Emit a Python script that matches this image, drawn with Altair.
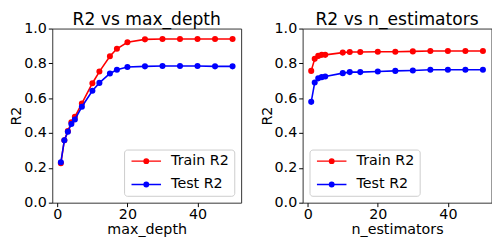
import altair as alt
import pandas as pd

max_depth = [1, 2, 3, 4, 5, 7, 10, 12, 15, 17, 20, 25, 30, 35, 40, 45, 50]
train_md = [0.226, 0.359, 0.411, 0.462, 0.493, 0.570, 0.686, 0.753, 0.841, 0.884, 0.921, 0.938, 0.940, 0.940, 0.940, 0.940, 0.940]
test_md = [0.232, 0.359, 0.407, 0.452, 0.478, 0.551, 0.643, 0.688, 0.742, 0.763, 0.779, 0.783, 0.785, 0.785, 0.785, 0.783, 0.783]

n_estimators = [1, 2, 3, 4, 5, 10, 12, 15, 20, 25, 30, 35, 40, 45, 50]
train_ne = [0.757, 0.826, 0.843, 0.849, 0.849, 0.862, 0.865, 0.865, 0.867, 0.867, 0.869, 0.871, 0.871, 0.871, 0.871]
test_ne = [0.579, 0.690, 0.714, 0.721, 0.725, 0.744, 0.750, 0.750, 0.753, 0.757, 0.759, 0.763, 0.763, 0.763, 0.763]

series = ["Train R2", "Test R2"]
colors = ["#ff0000", "#0000ff"]
x_ticks = [0, 20, 40]
y_ticks = [0.0, 0.2, 0.4, 0.6, 0.8, 1.0]

FONT = "DejaVu Sans"
SYM = "M-3,0L3,0M-0.45,0A0.45,0.45,0,1,1,0.45,0A0.45,0.45,0,1,1,-0.45,0Z"


def make_df(xs, tr, te, xname):
    rows = []
    for s, vals in zip(series, [tr, te]):
        for x, v in zip(xs, vals):
            rows.append({xname: x, "R2": v, "series": s})
    return pd.DataFrame(rows)


def panel(df, xname, title, legend_orient):
    color_scale = alt.Scale(domain=series, range=colors)
    legend = alt.Legend(
        title=None, orient=legend_orient, offset=7,
        symbolType=SYM, symbolSize=100, symbolStrokeWidth=1.5,
        symbolOffset=10.8, labelOffset=18,
        labelFont=FONT, labelFontSize=14.5, labelColor="black",
        padding=4.5, rowPadding=8.8,
        fillColor="white", strokeColor="#cccccc", cornerRadius=3,
    )
    x = alt.X(f"{xname}:Q", title=xname,
              scale=alt.Scale(domain=[-1.45, 52.45], nice=False, zero=False),
              axis=alt.Axis(values=x_ticks, format="d"))
    y = alt.Y("R2:Q", title="R2",
              scale=alt.Scale(domain=[0, 1], nice=False),
              axis=alt.Axis(values=y_ticks, format=".1f"))
    layers = []
    for s in series:
        base = alt.Chart(df).transform_filter(alt.datum.series == s)
        layers.append(base.mark_line(strokeWidth=1.6).encode(
            x=x, y=y, color=alt.Color("series:N", scale=color_scale, legend=legend, sort=series)))
        layers.append(base.mark_point(filled=True, size=38, opacity=1).encode(
            x=x, y=y, color=alt.Color("series:N", scale=color_scale, legend=legend, sort=series)))
    return alt.layer(*layers).properties(
        width=192, height=177,
        title=alt.TitleParams(title, font=FONT, fontSize=17.4, fontWeight="normal", color="black",
                              offset=-7.6),
    )


left = panel(make_df(max_depth, train_md, test_md, "max_depth"), "max_depth", "R2 vs max_depth", "bottom-right")
right = panel(make_df(n_estimators, train_ne, test_ne, "n_estimators"), "n_estimators", "R2 vs n_estimators", "bottom-left")

chart = alt.hconcat(left, right, spacing=16.5).resolve_legend(color="independent").properties(
    padding={"left": 0, "top": 0, "right": 0, "bottom": 0}
).configure_view(stroke="#333333", strokeWidth=1).configure_axis(
    labelFont=FONT, labelFontSize=14.5, labelColor="black",
    titleFont=FONT, titleFontSize=14.5, titleColor="black", titleFontWeight="normal",
    tickSize=4, tickColor="black",
    domain=False, grid=False,
).configure_axisX(labelPadding=1, titlePadding=2).configure_axisY(labelPadding=2, titlePadding=0)

chart.save("out.html", embed_options={"renderer": "svg", "actions": False})
